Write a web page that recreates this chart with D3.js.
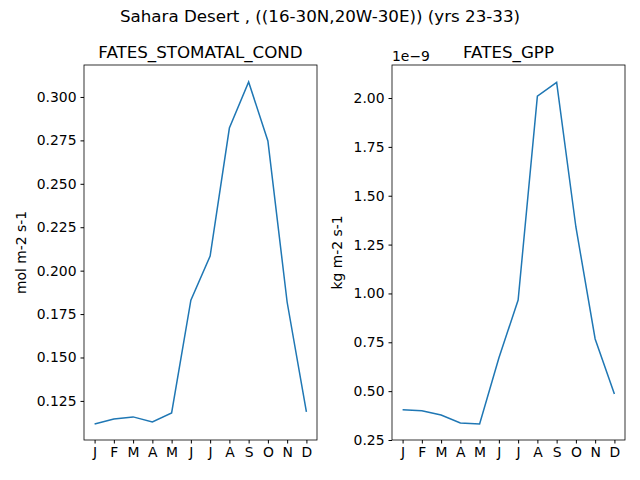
<!DOCTYPE html>
<html><head><meta charset="utf-8">
<script src="https://cdn.jsdelivr.net/npm/d3@7"></script>
<style>body{margin:0;background:#fff}text{font-family:"DejaVu Sans",sans-serif}</style>
</head><body>
<script>
const width = 640, height = 480;
const months = ['J','F','M','A','M','J','J','A','S','O','N','D'];
const stomatal = [0.1117,0.1146,0.1158,0.1129,0.1181,0.183,0.2084,0.2821,0.3086,0.2747,0.1818,0.1187];
const gpp = [0.405,0.40,0.378,0.337,0.332,0.67,0.966,2.01,2.08,1.34,0.767,0.485]; // x 1e-9
const stomatalTicks = [0.125,0.150,0.175,0.200,0.225,0.250,0.275,0.300];
const gppTicks = [0.25,0.50,0.75,1.00,1.25,1.50,1.75,2.00];

const svg = d3.select('body').append('svg').attr('width', width).attr('height', height);

svg.append('text').attr('x', 320).attr('y', 22).attr('text-anchor', 'middle')
  .attr('font-size', 16.7).text('Sahara Desert , ((16-30N,20W-30E)) (yrs 23-33)');

function panel(x0, x1, data, ticks, yDomain, fmt, title, ylabel, labelOff, offset) {
  const y0 = 65, y1 = 440;
  const x = d3.scaleLinear().domain([-0.55, 11.55]).range([x0, x1]);
  const y = d3.scaleLinear().domain(yDomain).range([y1, y0]);
  const g = svg.append('g');
  g.append('g').attr('transform', `translate(0,${y1})`)
    .call(d3.axisBottom(x).tickValues(d3.range(12)).tickFormat(i => months[i]).tickSize(3.5).tickPadding(4))
    .call(a => a.select('.domain').remove());
  g.append('g').attr('transform', `translate(${x0},0)`)
    .call(d3.axisLeft(y).tickValues(ticks).tickFormat(fmt).tickSize(3.5).tickPadding(4))
    .call(a => a.select('.domain').remove());
  g.selectAll('.tick text').attr('font-size', 13.9).attr('fill', '#000').attr('font-family', '"DejaVu Sans",sans-serif');
  g.selectAll('.tick line').attr('stroke', '#000');
  g.append('rect').attr('x', x0).attr('y', y0).attr('width', x1 - x0).attr('height', y1 - y0)
    .attr('fill', 'none').attr('stroke', '#000').attr('stroke-width', 0.8);
  g.append('path').datum(data).attr('fill', 'none').attr('stroke', '#1f77b4').attr('stroke-width', 1.5)
    .attr('d', d3.line().x((d, i) => x(i)).y(d => y(d)));
  g.append('text').attr('x', (x0 + x1) / 2).attr('y', 58).attr('text-anchor', 'middle')
    .attr('font-size', 16.7).text(title);
  g.append('text').attr('transform', `translate(${x0 - labelOff},${(y0 + y1) / 2}) rotate(-90)`)
    .attr('text-anchor', 'middle').attr('font-size', 13.9).text(ylabel);
  if (offset) g.append('text').attr('x', x0).attr('y', 61).attr('font-size', 13.9).text(offset);
}

panel(84, 317, stomatal, stomatalTicks, [0.1025, 0.3184], d3.format('.3f'), 'FATES_STOMATAL_COND', 'mol m-2 s-1', 58);
panel(392, 625, gpp, gppTicks, [0.25, 2.169], d3.format('.2f'), 'FATES_GPP', 'kg m-2 s-1', 50, '1e\u22129');
</script>
</body></html>
